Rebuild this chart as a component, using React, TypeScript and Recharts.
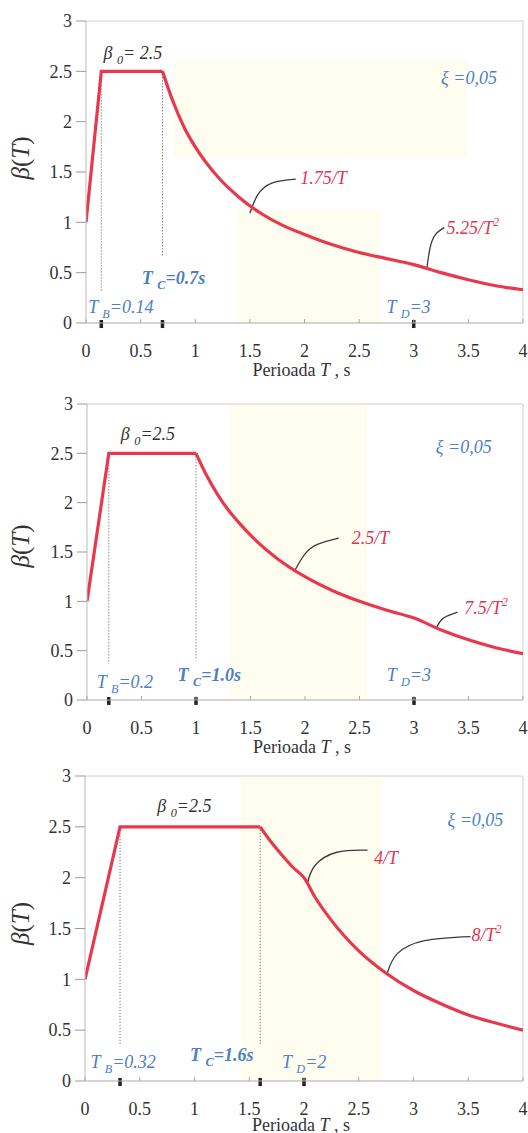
import { LineChart, Line, XAxis, YAxis, ReferenceLine, ReferenceDot, ReferenceArea } from 'recharts';

const SERIF = 'Liberation Serif';
const CURVE_RED = '#e8384e';
const LABEL_RED = '#de3652';
const BLUE = '#4b80c6';
const INK = '#333';

const T_TICKS = [0, 0.5, 1, 1.5, 2, 2.5, 3, 3.5, 4];
const BETA_TICKS = [0, 0.5, 1, 1.5, 2, 2.5, 3];

type Pt = { t: number; b: number };
type Part = { s: string; sub?: boolean; sup?: boolean };
type Note = { t: number; b: number; parts: Part[]; color: string; bold?: boolean; size?: number };
type Guide = { t: number; from: number; to: number };
type Area = { x1: number; x2: number; y1: number; y2: number };

// --- spectrum 1: TB = 0.14, TC = 0.7, TD = 3
const RAMP_1: Pt[] = [{ t: 0, b: 1 }, { t: 0.14, b: 2.5 }, { t: 0.7, b: 2.5 }];
const DECAY_1: Pt[] = [
  { t: 0.7, b: 2.5 }, { t: 0.8, b: 2.19 }, { t: 0.9, b: 1.94 }, { t: 1, b: 1.75 }, { t: 1.2, b: 1.46 },
  { t: 1.4, b: 1.25 }, { t: 1.6, b: 1.09 }, { t: 1.8, b: 0.97 }, { t: 2, b: 0.88 }, { t: 2.25, b: 0.78 },
  { t: 2.5, b: 0.7 }, { t: 2.75, b: 0.64 }, { t: 3, b: 0.58 }, { t: 3.25, b: 0.5 }, { t: 3.5, b: 0.43 },
  { t: 3.75, b: 0.37 }, { t: 4, b: 0.33 },
];
const LEADERS_1: Pt[][] = [
  [{ t: 1.5, b: 1.09 }, { t: 1.57, b: 1.27 }, { t: 1.7, b: 1.39 }, { t: 1.92, b: 1.43 }],
  [{ t: 3.12, b: 0.54 }, { t: 3.15, b: 0.75 }, { t: 3.2, b: 0.88 }, { t: 3.28, b: 0.95 }],
];
const MARKS_1 = [0.14, 0.7, 3];
const GUIDES_1: Guide[] = [{ t: 0.14, from: 2.36, to: 0.31 }, { t: 0.7, from: 2.5, to: 0.66 }];
const NOTES_1: Note[] = [
  { t: 0.16, b: 2.62, color: INK, parts: [{ s: 'β ' }, { s: '0', sub: true }, { s: '= 2.5' }] },
  { t: 3.25, b: 2.37, color: BLUE, parts: [{ s: 'ξ =0,05' }] },
  { t: 1.96, b: 1.38, color: LABEL_RED, parts: [{ s: '1.75/T' }] },
  { t: 3.3, b: 0.88, color: LABEL_RED, parts: [{ s: '5.25/T' }, { s: '2', sup: true }] },
  { t: 0.51, b: 0.39, color: BLUE, bold: true, parts: [{ s: 'T ' }, { s: 'C', sub: true }, { s: '=0.7s' }] },
  { t: 0.02, b: 0.1, color: BLUE, parts: [{ s: 'T ' }, { s: 'B', sub: true }, { s: '=0.14' }] },
  { t: 2.75, b: 0.1, color: BLUE, parts: [{ s: 'T ' }, { s: 'D', sub: true }, { s: '=3' }] },
];
const TINT_1: Area[] = [{ x1: 0.8, x2: 3.49, y1: 1.65, y2: 2.61 }, { x1: 1.38, x2: 2.69, y1: 0, y2: 1.12 }];

// --- spectrum 2: TB = 0.2, TC = 1.0, TD = 3
const RAMP_2: Pt[] = [{ t: 0, b: 1 }, { t: 0.2, b: 2.5 }, { t: 1, b: 2.5 }];
const DECAY_2: Pt[] = [
  { t: 1, b: 2.5 }, { t: 1.1, b: 2.27 }, { t: 1.2, b: 2.08 }, { t: 1.3, b: 1.92 }, { t: 1.4, b: 1.79 },
  { t: 1.5, b: 1.67 }, { t: 1.75, b: 1.43 }, { t: 2, b: 1.25 }, { t: 2.25, b: 1.11 }, { t: 2.5, b: 1.0 },
  { t: 2.75, b: 0.91 }, { t: 3, b: 0.83 }, { t: 3.25, b: 0.71 }, { t: 3.5, b: 0.61 }, { t: 3.75, b: 0.53 },
  { t: 4, b: 0.47 },
];
const LEADERS_2: Pt[][] = [
  [{ t: 1.9, b: 1.3 }, { t: 2.0, b: 1.48 }, { t: 2.12, b: 1.58 }, { t: 2.31, b: 1.64 }],
  [{ t: 3.21, b: 0.74 }, { t: 3.27, b: 0.83 }, { t: 3.4, b: 0.89 }],
];
const MARKS_2 = [0.2, 1, 3];
const GUIDES_2: Guide[] = [{ t: 0.2, from: 2.5, to: 0.37 }, { t: 1, from: 2.5, to: 0.4 }];
const NOTES_2: Note[] = [
  { t: 0.31, b: 2.64, color: INK, parts: [{ s: 'β ' }, { s: '0', sub: true }, { s: '=2.5' }] },
  { t: 3.2, b: 2.5, color: BLUE, parts: [{ s: 'ξ =0,05' }] },
  { t: 2.43, b: 1.58, color: LABEL_RED, parts: [{ s: '2.5/T' }] },
  { t: 3.46, b: 0.87, color: LABEL_RED, parts: [{ s: '7.5/T' }, { s: '2', sup: true }] },
  { t: 0.09, b: 0.12, color: BLUE, parts: [{ s: 'T ' }, { s: 'B', sub: true }, { s: '=0.2' }] },
  { t: 0.83, b: 0.19, color: BLUE, bold: true, parts: [{ s: 'T ' }, { s: 'C', sub: true }, { s: '=1.0s' }] },
  { t: 2.75, b: 0.19, color: BLUE, parts: [{ s: 'T ' }, { s: 'D', sub: true }, { s: '=3' }] },
];
const TINT_2: Area[] = [{ x1: 1.31, x2: 2.57, y1: 0, y2: 3 }];

// --- spectrum 3: TB = 0.32, TC = 1.6, TD = 2
const RAMP_3: Pt[] = [{ t: 0, b: 1 }, { t: 0.32, b: 2.5 }, { t: 1.6, b: 2.5 }];
const DECAY_3: Pt[] = [
  { t: 1.6, b: 2.5 }, { t: 1.7, b: 2.35 }, { t: 1.8, b: 2.22 }, { t: 1.9, b: 2.1 }, { t: 2, b: 2.0 },
  { t: 2.1, b: 1.81 }, { t: 2.25, b: 1.58 }, { t: 2.5, b: 1.28 }, { t: 2.75, b: 1.06 }, { t: 3, b: 0.89 },
  { t: 3.25, b: 0.76 }, { t: 3.5, b: 0.65 }, { t: 3.75, b: 0.57 }, { t: 4, b: 0.5 },
];
const LEADERS_3: Pt[][] = [
  [{ t: 2.03, b: 1.94 }, { t: 2.1, b: 2.12 }, { t: 2.3, b: 2.25 }, { t: 2.58, b: 2.27 }],
  [{ t: 2.76, b: 1.06 }, { t: 2.85, b: 1.25 }, { t: 3.1, b: 1.38 }, { t: 3.52, b: 1.42 }],
];
const MARKS_3 = [0.32, 1.6, 2];
const GUIDES_3: Guide[] = [{ t: 0.32, from: 2.5, to: 0.35 }, { t: 1.6, from: 2.5, to: 0.35 }];
const NOTES_3: Note[] = [
  { t: 0.66, b: 2.65, color: INK, parts: [{ s: 'β ' }, { s: '0', sub: true }, { s: '=2.5' }] },
  { t: 3.31, b: 2.51, color: BLUE, parts: [{ s: 'ξ =0,05' }] },
  { t: 2.64, b: 2.13, color: LABEL_RED, parts: [{ s: '4/T' }] },
  { t: 3.53, b: 1.38, color: LABEL_RED, parts: [{ s: '8/T' }, { s: '2', sup: true }] },
  { t: 0.05, b: 0.13, color: BLUE, parts: [{ s: 'T ' }, { s: 'B', sub: true }, { s: '=0.32' }] },
  { t: 0.96, b: 0.2, color: BLUE, bold: true, parts: [{ s: 'T ' }, { s: 'C', sub: true }, { s: '=1.6s' }] },
  { t: 1.8, b: 0.13, color: BLUE, parts: [{ s: 'T ' }, { s: 'D', sub: true }, { s: '=2' }] },
];
const TINT_3: Area[] = [{ x1: 1.42, x2: 2.7, y1: 0, y2: 3 }];

interface Cfg {
  top: number;
  height: number;
  padTop: number;
  xAxisH: number;
  yAxisW: number;
  betaShift: number;
  titleY: number;
  ramp: Pt[];
  decay: Pt[];
  leaders: Pt[][];
  marks: number[];
  guides: Guide[];
  notes: Note[];
  tint: Area[];
}

const CHARTS: Cfg[] = [
  { top: 0, height: 380, padTop: 21, xAxisH: 57, yAxisW: 86, betaShift: 14, titleY: 53, ramp: RAMP_1, decay: DECAY_1, leaders: LEADERS_1, marks: MARKS_1, guides: GUIDES_1, notes: NOTES_1, tint: TINT_1 },
  { top: 370, height: 390, padTop: 34, xAxisH: 60, yAxisW: 87, betaShift: 6, titleY: 53, ramp: RAMP_2, decay: DECAY_2, leaders: LEADERS_2, marks: MARKS_2, guides: GUIDES_2, notes: NOTES_2, tint: TINT_2 },
  { top: 750, height: 383, padTop: 26, xAxisH: 52, yAxisW: 85, betaShift: 5, titleY: 50, ramp: RAMP_3, decay: DECAY_3, leaders: LEADERS_3, marks: MARKS_3, guides: GUIDES_3, notes: NOTES_3, tint: TINT_3 },
];

function renderParts(parts: Part[]) {
  let shift = 0;
  return parts.map((p, i) => {
    const target = p.sub ? 5 : p.sup ? -8 : 0;
    const dy = target - shift;
    shift = target;
    return (
      <tspan key={i} dy={dy} fontSize={p.sub || p.sup ? '0.68em' : undefined}>
        {p.s}
      </tspan>
    );
  });
}

const noteShape = (n: Note) => (props: any) => (
  <text
    x={props.cx}
    y={props.cy}
    fontFamily={SERIF}
    fontStyle="italic"
    fontWeight={n.bold ? 700 : 400}
    fontSize={n.size ?? 18}
    fill={n.color}
  >
    {renderParts(n.parts)}
  </text>
);

function TTick(props: any) {
  const { x, y, payload } = props;
  return (
    <g>
      <line x1={x} x2={x} y1={y} y2={y - 4} stroke="#aaa" />
      <text x={x} y={y + 34} textAnchor="middle" fontFamily={SERIF} fontSize={18} fill={INK}>
        {payload.value}
      </text>
    </g>
  );
}

function BetaTick(props: any) {
  const { x, y, payload } = props;
  return (
    <text x={x} y={y} dy="0.35em" textAnchor="end" fontFamily={SERIF} fontSize={18} fill={INK}>
      {payload.value}
    </text>
  );
}

function SpectrumChart({ cfg }: { cfg: Cfg }) {
  return (
    <div style={{ position: 'absolute', left: 0, top: cfg.top }}>
      <LineChart width={528} height={cfg.height} margin={{ top: cfg.padTop, right: 5, bottom: 0, left: 0 }}>
        <XAxis
          type="number"
          dataKey="t"
          domain={[0, 4]}
          ticks={T_TICKS}
          interval={0}
          allowDataOverflow
          height={cfg.xAxisH}
          tickSize={0}
          tickMargin={0}
          tickLine={false}
          axisLine={{ stroke: '#aaa' }}
          tick={<TTick />}
          label={{
            content: (p: any) => {
              const vb = p.viewBox;
              return (
                <text x={vb.x + vb.width / 2 - 3} y={vb.y + cfg.titleY} textAnchor="middle" fontFamily={SERIF} fontSize={18} fill={INK}>
                  Perioada <tspan fontStyle="italic">T</tspan> , s
                </text>
              );
            },
          }}
        />
        <YAxis
          type="number"
          domain={[0, 3]}
          ticks={BETA_TICKS}
          interval={0}
          allowDataOverflow
          width={cfg.yAxisW}
          tickSize={10}
          tickMargin={4}
          axisLine={{ stroke: '#bbb' }}
          tickLine={{ stroke: '#999' }}
          tick={<BetaTick />}
          label={{
            content: (p: any) => {
              const vb = p.viewBox;
              const cx = vb.x + 29;
              const cy = vb.y + vb.height / 2 - cfg.betaShift;
              return (
                <text
                  x={cx}
                  y={cy}
                  transform={`rotate(-90 ${cx} ${cy})`}
                  textAnchor="middle"
                  fontFamily={SERIF}
                  fontSize={25}
                  fill={INK}
                >
                  <tspan fontStyle="italic">β</tspan>(<tspan fontStyle="italic">T</tspan>)
                </text>
              );
            },
          }}
        />
        {cfg.tint.map((a, i) => (
          <ReferenceArea key={`tint${i}`} x1={a.x1} x2={a.x2} y1={a.y1} y2={a.y2} fill="#fffbe2" fillOpacity={0.55} stroke="none" />
        ))}
        <ReferenceLine y={3} stroke="#d0d0d0" />
        <ReferenceLine x={4} stroke="#d0d0d0" />
        {cfg.guides.map((g, i) => (
          <ReferenceLine
            key={`guide${i}`}
            segment={[{ x: g.t, y: g.from }, { x: g.t, y: g.to }]}
            stroke="#555"
            strokeWidth={1}
            strokeDasharray="1 2"
          />
        ))}
        {cfg.leaders.map((l, i) => (
          <Line
            key={`lead${i}`}
            data={l}
            dataKey="b"
            type="natural"
            stroke="#3c3c3c"
            strokeWidth={1.3}
            dot={false}
            activeDot={false}
            isAnimationActive={false}
          />
        ))}
        <Line data={cfg.ramp} dataKey="b" type="linear" stroke={CURVE_RED} strokeWidth={3.2} dot={false} activeDot={false} isAnimationActive={false} />
        <Line data={cfg.decay} dataKey="b" type="monotone" stroke={CURVE_RED} strokeWidth={3.2} dot={false} activeDot={false} isAnimationActive={false} />
        {cfg.marks.map((m, i) => (
          <ReferenceLine
            key={`mark${i}`}
            segment={[{ x: m, y: 0.03 }, { x: m, y: -0.05 }]}
            stroke="#222"
            strokeWidth={3.5}
            ifOverflow="visible"
          />
        ))}
        {cfg.notes.map((n, i) => (
          <ReferenceDot key={`note${i}`} x={n.t} y={n.b} r={1} ifOverflow="visible" shape={noteShape(n)} />
        ))}
      </LineChart>
    </div>
  );
}

export default function App() {
  return (
    <div style={{ position: 'absolute', left: 0, top: 0, width: 528, height: 1133, overflow: 'hidden', background: '#fff' }}>
      {CHARTS.map((c, i) => (
        <SpectrumChart key={i} cfg={c} />
      ))}
    </div>
  );
}
